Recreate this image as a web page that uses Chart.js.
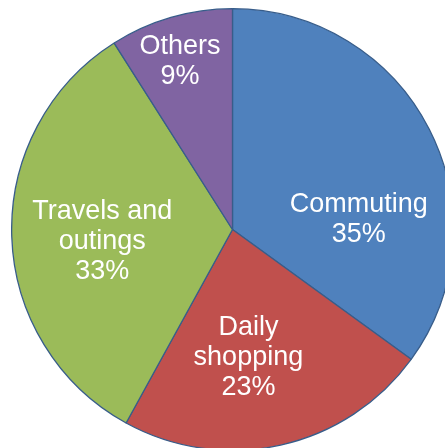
<!DOCTYPE html>
<html>
<head>
<meta charset="utf-8">
<script src="https://cdn.jsdelivr.net/npm/chart.js@4/dist/chart.umd.min.js"></script>
<style>
  html, body { margin: 0; padding: 0; background: #fff; overflow: hidden; }
  body { width: 445px; height: 448px; position: relative; }
  #wrap { position: absolute; left: 11px; top: 8px; width: 443px; height: 443px; }
</style>
</head>
<body>
<div id="wrap"><canvas id="pie" width="443" height="443"></canvas></div>
<script>
// Share of trips by purpose, clockwise from 12 o'clock
const categories = ['Commuting', 'Daily shopping', 'Travels and outings', 'Others'];
const shares = [35, 23, 33, 9];
// How each category name wraps inside its slice
const labelLines = [['Commuting'], ['Daily', 'shopping'], ['Travels and', 'outings'], ['Others']];

const SLICE_COLORS = ['#4f81bd', '#c0504d', '#9bbb59', '#8064a2'];
// Label block centres, as fractions of the radius from the pie centre
const LABEL_ANCHORS = [[0.572, -0.048], [0.072, 0.578], [-0.590, 0.054], [-0.238, -0.760]];

// Writes "name / NN%" in white inside each slice
const sliceLabels = {
  id: 'sliceLabels',
  afterDatasetsDraw(chart) {
    const { ctx } = chart;
    const arcs = chart.getDatasetMeta(0).data;
    ctx.save();
    ctx.fillStyle = '#ffffff';
    ctx.font = '27px Arial, sans-serif';
    ctx.textAlign = 'center';
    ctx.textBaseline = 'middle';
    arcs.forEach((arc, i) => {
      const r = arc.outerRadius;
      const cx = arc.x + LABEL_ANCHORS[i][0] * r;
      const cy = arc.y + LABEL_ANCHORS[i][1] * r;
      const lines = [...labelLines[i], shares[i] + '%'];
      lines.forEach((text, k) => {
        const y = cy + (k - (lines.length - 1) / 2) * 30;
        ctx.save();
        ctx.translate(cx, y);
        ctx.scale(1, 1.04);
        ctx.fillText(text, 0, 0);
        ctx.restore();
      });
    });
    ctx.restore();
  },
};

new Chart(document.getElementById('pie'), {
  type: 'pie',
  data: {
    labels: categories,
    datasets: [{
      data: shares,
      backgroundColor: SLICE_COLORS,
      borderColor: '#385d8a',
      borderWidth: 1.3,
    }],
  },
  options: {
    responsive: false,
    animation: false,
    layout: { padding: 0 },
    plugins: {
      legend: { display: false },
      tooltip: { enabled: false },
    },
  },
  plugins: [sliceLabels],
});
</script>
</body>
</html>
